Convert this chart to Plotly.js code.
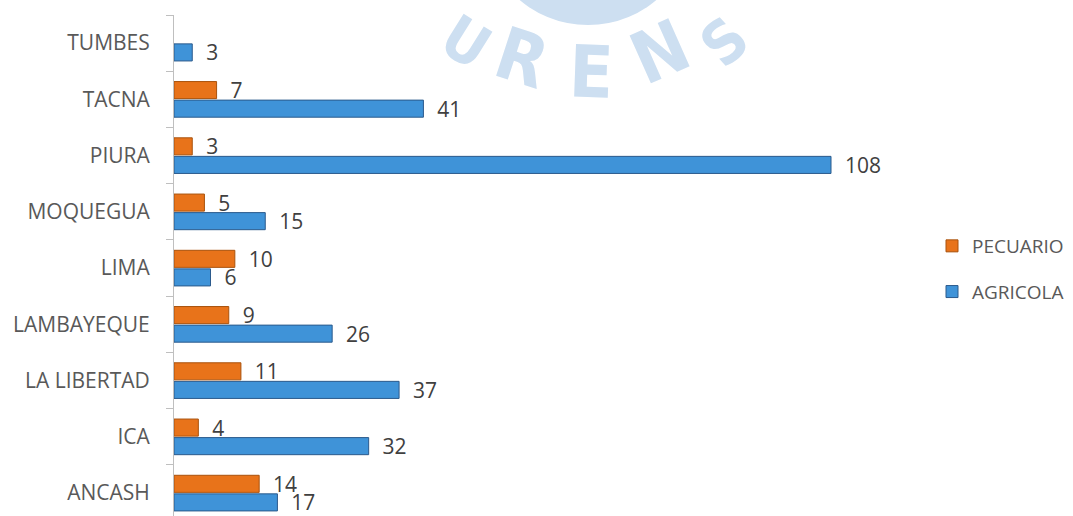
<!DOCTYPE html>
<html>
<head>
<meta charset="utf-8">
<script src="https://cdn.plot.ly/plotly-3.0.1.min.js"></script>
<style>
  html, body { margin: 0; padding: 0; background: #ffffff; }
  #chart { width: 1073px; height: 516px; }
</style>
</head>
<body>
<div id="chart"></div>
<script>
// Data
const categories = ["ANCASH", "ICA", "LA LIBERTAD", "LAMBAYEQUE", "LIMA", "MOQUEGUA", "PIURA", "TACNA", "TUMBES"];
const agricola = [17, 32, 37, 26, 6, 15, 108, 41, 3];
const pecuario = [14, 4, 11, 9, 10, 5, 3, 7, null];
const seriesNames = ["AGRICOLA", "PECUARIO"];
const watermarkLetters = ["U", "R", "E", "N", "S"];

const labelFont = { family: "Open Sans, sans-serif", size: 21, color: "#404040" };

function label(v) { return v === null ? "" : "\u00a0\u00a0" + v; }

const traces = [
  {
    type: "bar", orientation: "h", name: seriesNames[0], legendgroup: "a", legendrank: 2,
    y: categories, x: agricola,
    text: agricola.map(label), textposition: "outside", cliponaxis: false,
    constraintext: "none",
    textfont: labelFont,
    marker: { color: "#3f93d8", line: { color: "#2b5a8c", width: 1 } },
    hoverinfo: "x+y"
  },
  {
    type: "bar", orientation: "h", name: seriesNames[1], legendgroup: "p", legendrank: 1,
    y: categories, x: pecuario,
    text: pecuario.map(label), textposition: "outside", cliponaxis: false,
    constraintext: "none",
    textfont: labelFont,
    marker: { color: "#e8731a", line: { color: "#a9520c", width: 1 } },
    hoverinfo: "x+y"
  }
];

// paper coordinates helpers (plot area: left 174, top 15, width 730, height 501)
const L = 174, T = 15, W = 730, H = 501;
const px = v => (v - L) / W;
const py = v => 1 - (v - T) / H;

const wmPos = [
  { x: 466, y: 42, a: 32, s: 60 },
  { x: 522, y: 58, a: 18, s: 72 },
  { x: 591, y: 72, a: 2, s: 72 },
  { x: 660, y: 52, a: -24, s: 72 },
  { x: 724, y: 42, a: -42, s: 60 }
];
const wmColor = "#cddff1";

const annotations = watermarkLetters.map((ch, i) => ({
  xref: "paper", yref: "paper", x: px(wmPos[i].x), y: py(wmPos[i].y),
  xanchor: "center", yanchor: "middle", showarrow: false,
  text: ch, textangle: wmPos[i].a,
  font: { family: "DejaVu Sans Condensed, DejaVu Sans, sans-serif", size: wmPos[i].s, weight: "bold", color: wmColor }
}));

const layout = {
  width: 1073, height: 516,
  margin: { l: L, r: 1073 - L - W, t: T, b: 0, pad: 0 },
  paper_bgcolor: "#ffffff", plot_bgcolor: "rgba(0,0,0,0)",
  barmode: "group", bargap: 0.34, bargroupgap: 0.08,
  showlegend: true,
  legend: {
    xref: "container", yref: "container",
    x: 932 / 1073, xanchor: "left", y: 1 - 227 / 516, yanchor: "top",
    traceorder: "grouped", tracegroupgap: 18,
    font: { family: "Open Sans, sans-serif", size: 19, color: "#595959" },
    bgcolor: "rgba(0,0,0,0)"
  },
  xaxis: {
    range: [0, 120], visible: false, showgrid: false, zeroline: false, fixedrange: true
  },
  yaxis: {
    type: "category", range: [-0.407, 8.5],
    showline: true, linecolor: "#bfbfbf", linewidth: 1,
    ticks: "outside", ticklen: 7, tickcolor: "#bfbfbf", tickwidth: 1,
    tickson: "boundaries", ticklabelstandoff: 19,
    showgrid: false, zeroline: false,
    tickfont: { family: "Open Sans, sans-serif", size: 21, color: "#595959" },
    fixedrange: true
  },
  shapes: [
    { type: "circle", xref: "paper", yref: "paper", layer: "below",
      x0: px(482), x1: px(694), y0: py(25), y1: py(-187),
      fillcolor: wmColor, line: { width: 0 } }
  ],
  annotations: annotations
};

Plotly.newPlot("chart", traces, layout, { displayModeBar: false, staticPlot: true });
</script>
</body>
</html>
